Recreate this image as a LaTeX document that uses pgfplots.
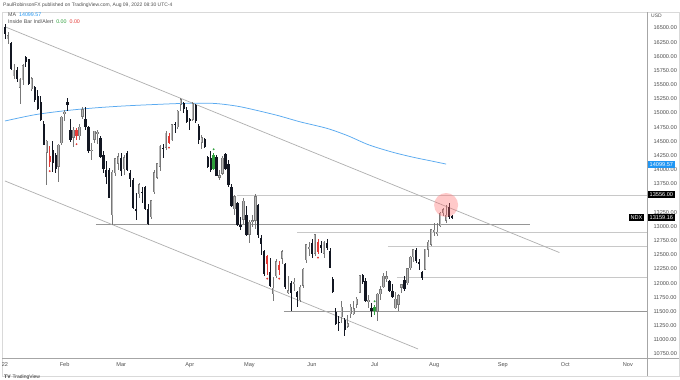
\documentclass[border=0pt]{standalone}
\usepackage{pgfplots}
\usepackage{pgfplotstable}
\pgfplotsset{compat=1.18}
\usepackage{fontspec}
\setmainfont{Liberation Sans}
\definecolor{cup}{RGB}{120,120,120}
\definecolor{cupin}{RGB}{185,185,185}
\definecolor{cdn}{RGB}{19,23,34}
\definecolor{cred}{RGB}{229,57,53}
\definecolor{cgrn}{RGB}{46,160,60}
\definecolor{mablue}{RGB}{90,170,240}
\definecolor{tline}{RGB}{175,175,175}
\definecolor{hthin}{RGB}{200,200,200}
\definecolor{hthick}{RGB}{150,150,150}
\definecolor{txt}{RGB}{80,80,80}
\definecolor{tvblue}{RGB}{33,150,243}
\pgfplotstableread{
i o h l c t
0 16520 16575 16300 16390 1
1 16300 16430 16210 16370 0
2 16230 16260 15755 15772 1
3 15650 15860 15600 15765 0
4 15760 15810 15550 15594 1
5 15450 15620 15168 15605 0
6 15580 15860 15500 15840 0
7 15980 16010 15820 15905 1
8 15950 15960 15490 15518 1
9 15420 15630 15380 15612 0
10 15460 15480 15200 15238 1
11 15300 15400 15050 15073 1
12 15200 15300 14860 14877 1
13 14800 14860 14430 14441 1
14 14300 14520 13725 14514 0
15 14250 14420 14050 14139 2
16 14350 14500 13960 14112 1
17 14260 14300 13950 14015 1
18 14050 14460 13790 14441 0
19 14470 14950 14440 14931 0
20 14990 15050 14860 15018 0
21 15200 15260 15040 15138 1
22 14700 14900 14490 14525 1
23 14560 14750 14400 14707 0
24 14700 14740 14520 14592 2
25 14590 14800 14520 14757 0
26 14930 15110 14900 15063 0
27 14900 15110 14700 14749 1
28 14760 14780 14300 14337 1
29 14330 14480 14180 14352 0
30 14530 14690 14480 14685 0
31 14640 14700 14460 14662 0
32 14560 14590 14200 14233 1
33 14260 14330 13940 14019 1
34 14000 14160 13740 13866 1
35 14000 14030 13500 13508 1
36 13200 13990 13021 13965 0
37 13940 14210 13890 14203 0
38 14110 14290 13990 14237 0
39 14210 14300 13890 13981 1
40 14010 14260 13900 14225 0
41 14300 14330 13980 14003 1
42 13950 13990 13700 13837 1
43 13820 13850 13300 13319 1
44 13300 13590 13110 13269 1
45 13570 13770 13510 13746 0
46 13600 13690 13410 13598 1
47 13700 13710 13290 13301 1
48 13300 13390 13020 13046 1
49 13160 13470 13130 13458 0
50 13600 13990 13570 13960 0
51 13860 14120 13840 14117 0
52 14050 14440 13980 14420 0
53 14390 14460 14200 14365 1
54 14390 14690 14350 14656 0
55 14590 14640 14460 14474 2
56 14520 14810 14510 14803 0
57 14810 14840 14640 14790 1
58 14750 15050 14710 15037 0
59 15150 15270 15030 15240 0
60 15180 15200 15000 15070 1
61 15050 15100 14830 14838 1
62 14900 14920 14700 14861 1
63 14880 15190 14860 15172 0
64 15150 15160 14820 14856 1
65 14770 14800 14450 14521 1
66 14480 14620 14370 14576 0
67 14550 14560 14380 14402 1
68 14230 14250 14030 14050 1
69 14200 14330 13960 13993 1
70 14010 14290 14000 14262 3
71 14230 14260 13890 13897 1
72 13860 14000 13820 13903 0
73 13930 14240 13910 14214 0
74 14280 14300 13990 14012 1
75 14100 14170 13700 13723 1
76 13700 13750 13350 13357 1
77 13300 13560 13200 13530 0
78 13420 13440 13000 13017 1
79 13030 13160 12930 12992 1
80 13120 13500 13050 13454 0
81 13200 13360 12840 12854 1
82 12850 13120 12700 13080 0
83 13070 13200 12990 13113 0
84 13100 13570 12960 13532 0
85 13380 13400 12800 12853 1
86 12790 12850 12500 12684 1
87 12560 12590 12120 12155 1
88 12480 12500 12150 12346 2
89 12200 12440 11940 11958 1
90 11800 12100 11690 11922 0
91 12120 12430 12090 12387 0
92 12320 12390 12150 12233 2
93 12430 12580 12330 12565 0
94 12340 12350 11900 11928 1
95 11820 12130 11800 11871 0
96 12000 12030 11510 11835 1
97 11990 12090 11870 12029 0
98 11850 11860 11580 11758 1
99 11700 11960 11670 11934 0
100 11950 12270 11920 12255 0
101 12400 12690 12360 12682 0
102 12600 12720 12480 12643 0
103 12700 12780 12440 12522 1
104 12520 12870 12480 12866 0
105 12720 12780 12520 12558 2
106 12670 12740 12530 12614 1
107 12520 12750 12450 12727 0
108 12700 12780 12590 12622 1
109 12560 12620 12260 12270 1
110 12080 12100 11820 11840 1
111 11500 11560 11270 11281 1
112 11320 11420 11150 11301 1
113 11400 11680 11300 11584 0
114 11350 11380 11069 11167 1
115 11230 11440 11210 11297 0
116 11450 11630 11380 11585 0
117 11450 11690 11430 11555 0
118 11620 11760 11570 11726 0
119 11830 12150 11820 12142 0
120 12140 12170 11990 12028 1
121 12030 12090 11660 11677 1
122 11660 11790 11560 11708 0
123 11560 11650 11410 11504 1
124 11510 11610 11430 11586 3
125 11500 11820 11340 11811 0
126 11800 11950 11710 11893 0
127 11930 12180 11920 12133 0
128 12070 12220 12020 12126 0
129 12030 12050 11850 11865 1
130 11860 11980 11730 11752 1
131 11560 11850 11540 11727 0
132 11620 11810 11510 11786 0
133 11920 11990 11830 11981 0
134 12050 12130 11860 11889 1
135 12000 12270 11960 12259 0
136 12260 12480 12230 12466 0
137 12460 12610 12380 12599 0
138 12580 12620 12360 12397 1
139 12380 12420 12240 12330 1
140 12200 12220 12060 12087 1
141 12240 12610 12230 12603 0
142 12590 12760 12460 12726 0
143 12680 12960 12660 12947 0
144 12900 13060 12830 12942 0
145 12880 13060 12840 12898 0
146 13000 13260 12990 13246 0
147 13230 13330 13180 13300 0
148 13100 13370 13060 13207 0
149 13340 13420 13130 13161 1
150 13190 13200 13140 13159 1
}\ohlc
% #1 type, #2 wick/outline colour, #3 body width, #4 body colour
\newcommand{\wicks}[2]{%
\addplot[draw=none, mark=none, forget plot,
  restrict expr to domain={\thisrow{t}}{#1:#1},
  error bars/.cd, y dir=both, y explicit, error mark=none,
  error bar style={draw=#2, line width=0.75pt}]
  table[x=i, y expr={(\thisrow{h}+\thisrow{l})/2}, y error expr={(\thisrow{h}-\thisrow{l})/2}] {\ohlc};
}
\newcommand{\bodies}[4]{%
\addplot[draw=none, mark=none, forget plot,
  restrict expr to domain={\thisrow{t}}{#1:#1},
  error bars/.cd, y dir=both, y explicit, error mark=none,
  error bar style={draw=#4, line width=#3}]
  table[x=i, y expr={(\thisrow{o}+\thisrow{c})/2}, y error expr={max(abs(\thisrow{o}-\thisrow{c})/2-#2,6)}] {\ohlc};
}
\begin{document}
\begin{tikzpicture}
\useasboundingbox (0,0) rectangle (680pt,380pt);
\fill[white] (0,0) rectangle (680pt,380pt);
\draw[color=hthin!70, line width=0.5pt] (2pt,4pt) rectangle (679pt,368pt);
\begin{axis}[
  at={(3pt,22pt)}, anchor=south west,
  width=644pt, height=346pt, scale only axis,
  xmin=-0.67, xmax=215.4, ymin=10680, ymax=16782,
  clip=false,
  axis line style={draw=none},
  major tick length=0pt,
  xtick={0,20,39,62,82,103,124,144,167,188,209},
  xticklabels={22,Feb,Mar,Apr,May,Jun,Jul,Aug,Sep,Oct,Nov},
  xticklabel style={font=\fontsize{5.6}{6}\selectfont, text=txt, yshift=-1pt},
  ytick={10750,11000,11250,11500,11750,12000,12250,12500,12750,13000,13250,13750,14000,14250,14500,14750,15000,15250,15500,15750,16000,16250,16500},
  scaled y ticks=false,
  yticklabel pos=right,
  yticklabel style={font=\fontsize{5.6}{6}\selectfont, text=txt, anchor=west, xshift=3pt},
  /pgf/number format/.cd, fixed, fixed zerofill, precision=2, 1000 sep={}, assume math mode=true,
]
% horizontal levels
\addplot[hthin, line width=0.6pt] coordinates {(78,13556) (215.4,13556)};
\addplot[hthin, line width=0.6pt] coordinates {(98,12902) (215.4,12902)};
\addplot[hthin, line width=0.6pt] coordinates {(128.5,12655) (215.4,12655)};
\addplot[hthin, line width=0.6pt] coordinates {(131.5,12108) (215.4,12108)};
\addplot[hthick, line width=1.2pt] coordinates {(30.5,13030) (176,13030)};
\addplot[hthick, line width=1.2pt] coordinates {(93.6,11500) (215.4,11500)};
% trend lines
\addplot[tline, line width=0.7pt] coordinates {(0.3,16515) (186,12540)};
\addplot[tline, line width=0.7pt] coordinates {(0,13802) (138.6,10839)};
% moving average
\addplot[mablue, line width=0.75pt, smooth, tension=0.5] coordinates {
(0,14860) (10,14970) (20,15040) (30,15090) (40,15125) (50,15150) (60,15170)
(70,15170) (78,15120) (85,15040) (92,14950) (99,14845) (108,14730) (115,14600)
(122,14440) (130,14310) (137,14220) (143,14155) (148,14100)};
% candles
\wicks{0}{cup}
\bodies{0}{0}{2.3pt}{cup}
\bodies{0}{9}{1.0pt}{cupin}
\wicks{1}{cdn}
\bodies{1}{0}{2.3pt}{cdn}
\wicks{2}{cred}
\bodies{2}{0}{2.3pt}{cred}
\wicks{3}{cgrn}
\bodies{3}{0}{2.3pt}{cgrn}
% inside bar dots
\addplot[only marks, mark=*, mark size=0.7pt, color=cred] coordinates {(15,13975) (24,14450) (55,14390) (88,12080) (92,12080) (105,12450)};
\addplot[only marks, mark=*, mark size=0.7pt, color=cgrn] coordinates {(70,14360) (124,11680)};
% highlight circle
\addplot[only marks, mark=*, mark size=12pt, color=red!60!white, fill opacity=0.35, draw opacity=0] coordinates {(148,13378)};
% price tags
\node[fill=tvblue, text=white, font=\fontsize{5.6}{6}\selectfont, inner xsep=1.5pt, inner ysep=1.5pt, anchor=west] at (axis cs:215.4,14099.57) {\hspace{1pt}14099.57};
\node[fill=black, text=white, font=\fontsize{5.6}{6}\selectfont, inner xsep=1.5pt, inner ysep=1.5pt, anchor=west] at (axis cs:215.4,13556) {\hspace{1pt}13556.00};
\node[fill=black, text=white, font=\fontsize{5.6}{6}\selectfont, inner xsep=1.5pt, inner ysep=1.5pt, anchor=west] at (axis cs:215.4,13159.16) {\hspace{1pt}13159.16};
\node[fill=black, text=white, font=\fontsize{5.6}{6}\selectfont, inner xsep=2pt, inner ysep=1.5pt, anchor=east] at (axis cs:214.6,13159.16) {NDX};
\end{axis}
\draw[color=gray!70, line width=0.5pt] (2pt,22pt) -- (679pt,22pt);
\draw[color=gray!70, line width=0.5pt] (647pt,4pt) -- (647pt,368pt);
\node[anchor=west, font=\fontsize{5}{6}\selectfont, text=txt, inner sep=0pt] at (3pt,375pt) {PaulRobinsonFX published on TradingView.com, Aug 09, 2022 08:30 UTC-4};
\node[anchor=west, font=\fontsize{5.3}{6}\selectfont, text=txt, inner sep=0pt] at (8pt,365pt) {MA\hspace{3pt}\textcolor{tvblue}{14099.57}};
\node[anchor=west, font=\fontsize{5.3}{6}\selectfont, text=txt, inner sep=0pt] at (8pt,358pt) {Inside Bar Ind/Alert\hspace{3pt}\textcolor{cgrn}{0.00}\hspace{3pt}\textcolor{cred}{0.00}};
\node[anchor=west, font=\fontsize{5}{6}\selectfont, text=txt, inner sep=0pt] at (651pt,364pt) {USD};
\node[anchor=west, font=\fontsize{5}{6}\selectfont, text=black!80, inner sep=0pt] at (4pt,2.5pt) {\textbf{TV}\hspace{2pt}TradingView};
\end{tikzpicture}
\end{document}
